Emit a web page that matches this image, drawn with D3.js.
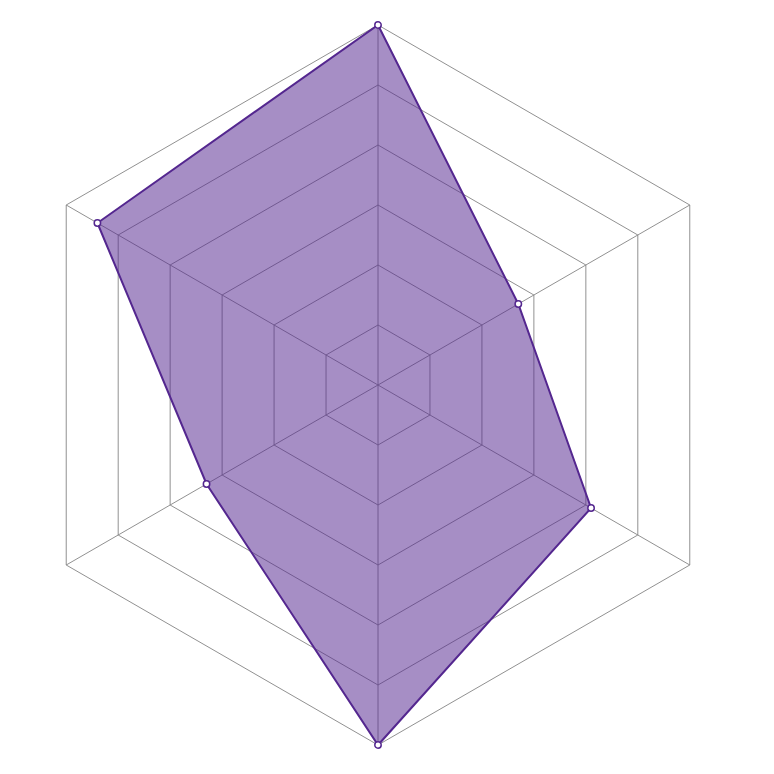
<!DOCTYPE html>
<html>
<head>
<meta charset="utf-8">
<script src="https://cdn.jsdelivr.net/npm/d3@7"></script>
<style>
  html, body { margin: 0; padding: 0; background: #fff; }
  svg { display: block; }
</style>
</head>
<body>
<svg id="radar" width="774" height="774"></svg>
<script>
// axes, clockwise starting from the top
var axes = ["a1", "a2", "a3", "a4", "a5", "a6"];
var values = [6, 2.7, 4.1, 6, 3.3, 5.4];
var levels = [1, 2, 3, 4, 5, 6];
var maxValue = 6;

var width = 774, height = 774;
var cx = 378, cy = 385, radius = 360;

var svg = d3.select("#radar");
var g = svg.append("g").attr("transform", "translate(" + cx + "," + cy + ")");

var r = d3.scaleLinear().domain([0, maxValue]).range([0, radius]);
var angle = d3.scaleLinear().domain([0, axes.length]).range([0, 2 * Math.PI]);

function pt(i, v){
  var a = angle(i);
  return [r(v) * Math.sin(a), -r(v) * Math.cos(a)];
}

// grid rings
g.selectAll(".ring")
  .data(levels)
  .enter()
  .append("path")
  .attr("class", "ring")
  .attr("d", function(lv){
    return d3.line()(axes.map(function(d, i){ return pt(i, lv); })) + "Z";
  })
  .style("fill", "none")
  .style("stroke", "#858585")
  .style("stroke-width", 0.9);

// spokes
g.selectAll(".spoke")
  .data(axes)
  .enter()
  .append("line")
  .attr("class", "spoke")
  .attr("x1", 0).attr("y1", 0)
  .attr("x2", function(d, i){ return pt(i, maxValue)[0]; })
  .attr("y2", function(d, i){ return pt(i, maxValue)[1]; })
  .style("stroke", "#858585")
  .style("stroke-width", 0.9);

// data area
var radial = d3.lineRadial()
  .angle(function(d, i){ return angle(i); })
  .radius(function(d){ return r(d); })
  .curve(d3.curveLinearClosed);

g.append("path")
  .datum(values)
  .attr("d", radial)
  .style("fill", "#54278f")
  .style("fill-opacity", 0.52)
  .style("stroke", "#54278f")
  .style("stroke-width", 2);

g.selectAll(".dot")
  .data(values)
  .enter()
  .append("circle")
  .attr("class", "dot")
  .attr("cx", function(d, i){ return pt(i, d)[0]; })
  .attr("cy", function(d, i){ return pt(i, d)[1]; })
  .attr("r", 3.2)
  .style("fill", "#fff")
  .style("stroke", "#54278f")
  .style("stroke-width", 1.5);
</script>
</body>
</html>
